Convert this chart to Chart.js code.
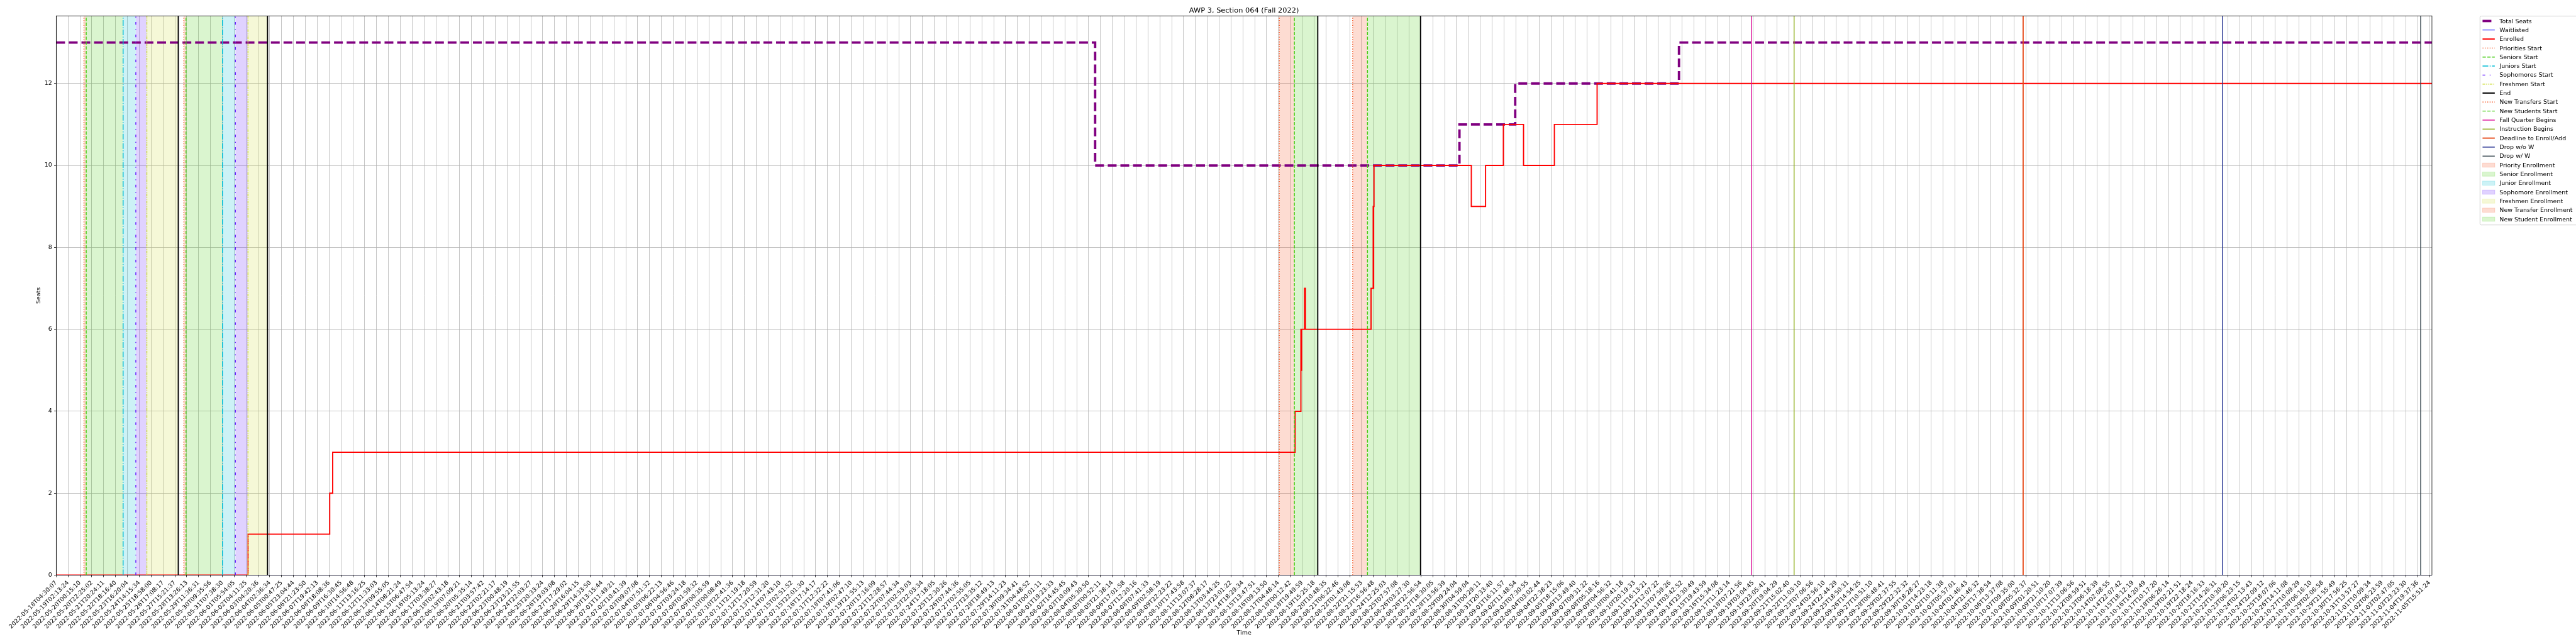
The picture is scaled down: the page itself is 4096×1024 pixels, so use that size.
<!DOCTYPE html>
<html><head><meta charset="utf-8">
<script src="https://cdn.jsdelivr.net/npm/chart.js@4.4.0/dist/chart.umd.min.js"></script>
<style>html,body{margin:0;padding:0;background:#fff;overflow:hidden}canvas{display:block}</style>
</head><body>
<canvas id="c" width="4096" height="1024" style="width:4096px;height:1024px"></canvas>
<script>
// ---------------- data ----------------
const TITLE = 'AWP 3, Section 064 (Fall 2022)';
const X_TITLE = 'Time';
const Y_TITLE = 'Seats';

const xTickLabels = [
'2022-05-18T04:30:07','2022-05-19T02:13:24','2022-05-20T00:15:10','2022-05-20T22:25:02','2022-05-21T20:24:11',
'2022-05-22T18:16:40','2022-05-23T16:20:04','2022-05-24T14:15:34','2022-05-25T18:58:00','2022-05-26T17:08:17',
'2022-05-27T15:21:37','2022-05-28T13:26:13','2022-05-29T11:36:31','2022-05-30T09:35:56','2022-05-31T07:38:30',
'2022-06-01T05:54:05','2022-06-02T04:11:25','2022-06-03T04:20:36','2022-06-04T02:36:34','2022-06-05T00:47:25',
'2022-06-05T23:04:44','2022-06-06T21:23:50','2022-06-07T19:42:13','2022-06-08T18:08:36','2022-06-09T16:30:45',
'2022-06-10T14:56:48','2022-06-11T13:16:25','2022-06-12T11:33:03','2022-06-13T09:55:05','2022-06-14T08:21:24',
'2022-06-15T06:47:54','2022-06-16T05:13:24','2022-06-17T03:38:27','2022-06-18T02:43:18','2022-06-19T07:09:21',
'2022-06-20T05:35:14','2022-06-21T03:57:42','2022-06-22T02:21:17','2022-06-23T00:48:19','2022-06-23T23:21:55',
'2022-06-24T22:03:27','2022-06-25T20:33:24','2022-06-26T19:03:08','2022-06-27T17:29:02','2022-06-28T16:04:15',
'2022-06-29T14:33:50','2022-06-30T13:15:44','2022-07-01T11:49:21','2022-07-02T10:41:39','2022-07-03T09:07:08',
'2022-07-04T07:51:32','2022-07-05T06:22:13','2022-07-06T04:56:46','2022-07-07T03:24:18','2022-07-08T01:59:32',
'2022-07-09T00:35:59','2022-07-10T00:08:49','2022-07-10T22:41:36','2022-07-11T21:19:18','2022-07-12T17:20:59',
'2022-07-13T12:31:20','2022-07-14T07:43:10','2022-07-15T02:51:52','2022-07-15T22:01:30','2022-07-16T17:14:17',
'2022-07-17T12:32:22','2022-07-18T07:41:06','2022-07-19T02:47:10','2022-07-19T21:55:13','2022-07-20T17:16:09',
'2022-07-21T12:28:57','2022-07-22T07:44:34','2022-07-23T02:53:03','2022-07-23T22:03:34','2022-07-24T17:18:05',
'2022-07-25T12:30:26','2022-07-26T07:44:36','2022-07-27T02:55:05','2022-07-27T23:35:12','2022-07-28T18:49:13',
'2022-07-29T14:11:23','2022-07-30T09:34:41','2022-07-31T04:48:52','2022-08-01T00:01:11','2022-08-01T19:23:33',
'2022-08-02T14:45:45','2022-08-03T10:09:43','2022-08-04T05:30:50','2022-08-05T00:52:11','2022-08-05T21:38:14',
'2022-08-06T17:01:58','2022-08-07T12:20:16','2022-08-08T07:41:33','2022-08-09T02:58:19','2022-08-09T22:23:22',
'2022-08-10T17:43:58','2022-08-11T13:07:37','2022-08-12T08:28:17','2022-08-13T03:44:25','2022-08-13T23:01:22',
'2022-08-14T18:29:34','2022-08-15T13:47:51','2022-08-16T09:13:50','2022-08-17T04:48:14','2022-08-18T00:12:42',
'2022-08-18T19:49:59','2022-08-19T15:25:18','2022-08-20T10:48:35','2022-08-21T06:22:46','2022-08-22T01:43:08',
'2022-08-22T21:15:53','2022-08-23T16:56:48','2022-08-24T12:25:03','2022-08-25T07:57:08','2022-08-26T03:27:30',
'2022-08-26T22:56:54','2022-08-27T18:30:05','2022-08-28T13:56:39','2022-08-29T09:24:04','2022-08-30T04:59:04',
'2022-08-31T00:29:11','2022-08-31T20:33:40','2022-09-01T16:11:57','2022-09-02T11:48:54','2022-09-03T07:30:55',
'2022-09-04T03:02:44','2022-09-04T22:38:23','2022-09-05T18:15:06','2022-09-06T13:49:40','2022-09-07T09:31:22',
'2022-09-08T05:18:16','2022-09-09T04:56:32','2022-09-10T00:41:18','2022-09-10T20:19:33','2022-09-11T16:13:21',
'2022-09-12T12:07:22','2022-09-13T07:59:26','2022-09-14T03:42:52','2022-09-14T23:30:49','2022-09-15T19:43:59',
'2022-09-16T15:34:08','2022-09-17T11:23:14','2022-09-18T07:21:56','2022-09-19T03:04:45','2022-09-19T23:05:41',
'2022-09-20T19:04:29','2022-09-21T15:02:40','2022-09-22T11:03:10','2022-09-23T07:06:56','2022-09-24T02:56:10',
'2022-09-24T22:44:29','2022-09-25T18:50:31','2022-09-26T14:54:25','2022-09-27T10:51:10','2022-09-28T06:48:41',
'2022-09-29T02:37:55','2022-09-29T22:32:32','2022-09-30T18:28:27','2022-10-01T14:23:18','2022-10-02T10:11:38',
'2022-10-03T05:57:01','2022-10-04T01:46:43','2022-10-04T21:46:32','2022-10-05T17:38:54','2022-10-06T13:37:08',
'2022-10-07T09:35:00','2022-10-08T05:32:37','2022-10-09T01:20:51','2022-10-09T21:10:20','2022-10-10T17:07:39',
'2022-10-11T13:06:56','2022-10-12T08:59:51','2022-10-13T06:18:39','2022-10-14T02:08:55','2022-10-14T22:07:42',
'2022-10-15T18:12:19','2022-10-16T14:20:49','2022-10-17T10:17:20','2022-10-18T06:26:14','2022-10-19T02:21:51',
'2022-10-19T22:18:24','2022-10-20T18:16:33','2022-10-21T14:26:31','2022-10-22T10:30:20','2022-10-23T06:23:15',
'2022-10-24T02:13:43','2022-10-24T22:09:12','2022-10-25T18:07:06','2022-10-26T14:11:08','2022-10-27T10:09:29',
'2022-10-28T06:16:10','2022-10-29T02:06:58','2022-10-29T21:55:49','2022-10-30T17:56:25','2022-10-31T13:57:27',
'2022-11-01T10:09:34','2022-11-02T06:23:59','2022-11-03T02:47:05','2022-11-03T23:23:30','2022-11-04T19:37:36',
'2022-11-05T15:51:24'
];
const yTickValues = [0, 2, 4, 6, 8, 10, 12];

// x positions are in tick-index units (one unit = one labelled tick)
const X_END = 200.2;
const Y_MAX = 13.65;

const totalSeatsX = [0, 87.55, 118.25, 122.95, 136.75, X_END];
const totalSeatsY = [13, 10, 11, 12, 13, 13];

const waitlistedX = [0, X_END];
const waitlistedY = [0, 0];

const enrolledX = [0, 16.17, 23.05, 23.3, 104.4, 104.89, 104.92, 104.95, 105.2, 105.27, 110.8, 110.98, 111.0, 111.02, 111.05, 119.25, 120.45, 121.95, 123.65, 126.25, 129.85, X_END];
const enrolledY = [0, 1, 2, 3, 4, 6, 5, 6, 7, 6, 7, 9, 7, 9, 10, 9, 10, 11, 10, 11, 12, 12];

const prioritiesStart = [2.34, 10.76];
const seniorsStart = [2.53, 10.94];
const juniorsStart = [5.64, 14.01];
const sophomoresStart = [6.71, 15.10];
const freshmenStart = [7.64, 16.16];
const periodEnd = [10.29, 17.81, 106.31, 114.97];
const newTransfersStart = [103.07, 109.25];
const newStudentsStart = [104.34, 110.5];
const fallQuarterBegins = [142.85];
const instructionBegins = [146.45];
const deadlineEnrollAdd = [165.75];
const dropNoW = [182.55];
const dropW = [199.25];

const priorityEnrollment = [[2.34, 2.53], [10.76, 10.94]];
const seniorEnrollment = [[2.53, 5.64], [10.94, 14.01]];
const juniorEnrollment = [[5.64, 6.71], [14.01, 15.10]];
const sophomoreEnrollment = [[6.71, 7.64], [15.10, 16.16]];
const freshmenEnrollment = [[7.64, 10.29], [16.16, 17.81]];
const newTransferEnrollment = [[103.07, 104.34], [109.25, 110.5]];
const newStudentEnrollment = [[104.34, 106.31], [110.5, 114.97]];

// ---------------- style ----------------
const S = 0.682;
const PX = v => v * S;             // reference px -> page px
const LW = pt => pt * 100 / 72 * S; // matplotlib points -> page px
const FONT = '"DejaVu Sans", "Liberation Sans", sans-serif';
const CHART_LEFT = PX(131), CHART_RIGHT = PX(5670), CHART_TOP = PX(37), CHART_BOTTOM = PX(1341);

function dashes(pattern, lwPt) { return pattern.map(v => v * LW(lwPt)); }
const DOTTED = [1, 1.65], DASHED = [3.7, 1.6], DASHDOT = [6.4, 1.6, 1, 1.6];
const LOOSE_DASHDOT = [3, 5, 1, 5], DENSE_DASHDOTDOT = [3, 1, 1, 1, 1, 1];

function xy(xs, ys) { return xs.map((x, i) => ({ x, y: ys[i] })); }
function vlines(xs) { const d = []; xs.forEach(x => { d.push({ x, y: 0 }, { x, y: Y_MAX }, { x, y: null }); }); return d; }
function spans(list) { const d = []; list.forEach(([a, b]) => { d.push({ x: a, y: Y_MAX }, { x: b, y: Y_MAX }, { x: b, y: null }); }); return d; }

const rgba = (hex, a) => { const n = parseInt(hex.slice(1), 16); return `rgba(${n >> 16},${(n >> 8) & 255},${n & 255},${a})`; };

function lineDs(label, data, color, lwPt, dash, order, stepped) {
  return { label, data, borderColor: color, backgroundColor: color, borderWidth: LW(lwPt),
    borderDash: dash ? dashes(dash, lwPt) : [], order, stepped: stepped || false, fill: false,
    pointRadius: 0, pointHitRadius: 0, spanGaps: false, _kind: 'line', _lw: lwPt, _dash: dash };
}
function spanDs(label, list, color, alpha) {
  return { label, data: spans(list), borderColor: 'rgba(0,0,0,0)', borderWidth: 0, backgroundColor: rgba(color, alpha),
    fill: 'origin', order: 100, pointRadius: 0, pointHitRadius: 0, spanGaps: false, _kind: 'patch', _color: color, _alpha: alpha };
}

const C = {
  total: '#800080', wait: '#0000ff', enr: '#ff0000',
  prio: '#f4511e', sen: '#44cc11', jun: '#00bcd4', soph: '#651fff', fresh: '#cddc39', end: '#000000',
  fall: '#dd1199', instr: '#8fae1b', dead: '#e64a19', dropNoW: '#283593', dropW: '#37474f'
};

const datasets = [
  lineDs('Total Seats', xy(totalSeatsX, totalSeatsY), C.total, 4, DASHED, 52, true),
  lineDs('Waitlisted', xy(waitlistedX, waitlistedY), C.wait, 1, null, 51, true),
  lineDs('Enrolled', xy(enrolledX, enrolledY), C.enr, 2, null, 50, true),
  lineDs('Priorities Start', vlines(prioritiesStart), C.prio, 1.5, DOTTED, 10),
  lineDs('Seniors Start', vlines(seniorsStart), C.sen, 1.5, DASHED, 10),
  lineDs('Juniors Start', vlines(juniorsStart), C.jun, 1.5, DASHDOT, 10),
  lineDs('Sophomores Start', vlines(sophomoresStart), C.soph, 1.5, LOOSE_DASHDOT, 10),
  lineDs('Freshmen Start', vlines(freshmenStart), C.fresh, 1.5, DENSE_DASHDOTDOT, 10),
  lineDs('End', vlines(periodEnd), C.end, 2, null, 10),
  lineDs('New Transfers Start', vlines(newTransfersStart), C.prio, 1.5, DOTTED, 10),
  lineDs('New Students Start', vlines(newStudentsStart), C.sen, 1.5, DASHED, 10),
  lineDs('Fall Quarter Begins', vlines(fallQuarterBegins), C.fall, 1.5, null, 10),
  lineDs('Instruction Begins', vlines(instructionBegins), C.instr, 1.5, null, 10),
  lineDs('Deadline to Enroll/Add', vlines(deadlineEnrollAdd), C.dead, 2, null, 10),
  lineDs('Drop w/o W', vlines(dropNoW), C.dropNoW, 1.5, null, 10),
  lineDs('Drop w/ W', vlines(dropW), C.dropW, 1.5, null, 10),
  spanDs('Priority Enrollment', priorityEnrollment, C.prio, 0.2),
  spanDs('Senior Enrollment', seniorEnrollment, C.sen, 0.2),
  spanDs('Junior Enrollment', juniorEnrollment, C.jun, 0.2),
  spanDs('Sophomore Enrollment', sophomoreEnrollment, C.soph, 0.2),
  spanDs('Freshmen Enrollment', freshmenEnrollment, C.fresh, 0.2),
  spanDs('New Transfer Enrollment', newTransferEnrollment, C.prio, 0.2),
  spanDs('New Student Enrollment', newStudentEnrollment, C.sen, 0.2)
];

// ---------------- decorations (frame, titles, legend) ----------------
const decorPlugin = {
  id: 'decor',
  afterDraw(chart) {
    const ctx = chart.ctx, ca = chart.chartArea;
    ctx.save();
    ctx.strokeStyle = '#000'; ctx.lineWidth = LW(0.8); ctx.setLineDash([]);
    ctx.strokeRect(ca.left, ca.top, ca.right - ca.left, ca.bottom - ca.top);
    ctx.fillStyle = '#000';
    ctx.textAlign = 'center';
    ctx.font = `${PX(16.67)}px ${FONT}`; ctx.textBaseline = 'alphabetic';
    ctx.fillText(TITLE, (ca.left + ca.right) / 2, ca.top - LW(6));
    ctx.font = `${PX(13.89)}px ${FONT}`; ctx.textBaseline = 'top';
    ctx.fillText(X_TITLE, (ca.left + ca.right) / 2, PX(1469));
    ctx.save();
    ctx.translate(PX(97.5), (ca.top + ca.bottom) / 2); ctx.rotate(-Math.PI / 2);
    ctx.textBaseline = 'bottom'; ctx.fillText(Y_TITLE, 0, 0);
    ctx.restore();

    // legend
    const lx = PX(5782), ly = PX(37.5), lw = PX(330), lh = PX(487);
    ctx.fillStyle = 'rgba(255,255,255,0.8)'; ctx.strokeStyle = '#cccccc'; ctx.lineWidth = LW(1);
    const r = PX(3);
    ctx.beginPath();
    ctx.moveTo(lx + r, ly); ctx.lineTo(lx + lw - r, ly); ctx.arcTo(lx + lw, ly, lx + lw, ly + r, r);
    ctx.lineTo(lx + lw, ly + lh - r); ctx.arcTo(lx + lw, ly + lh, lx + lw - r, ly + lh, r);
    ctx.lineTo(lx + r, ly + lh); ctx.arcTo(lx, ly + lh, lx, ly + lh - r, r);
    ctx.lineTo(lx, ly + r); ctx.arcTo(lx, ly, lx + r, ly, r); ctx.closePath();
    ctx.fill(); ctx.stroke();
    const hx0 = PX(5788), hx1 = PX(5816.5), tx = PX(5827.5);
    ctx.font = `${PX(13.89)}px ${FONT}`; ctx.textAlign = 'left'; ctx.textBaseline = 'middle';
    chart.data.datasets.forEach((ds, i) => {
      const yc = PX(49) + i * PX(21);
      if (ds._kind === 'line') {
        ctx.strokeStyle = ds.borderColor; ctx.lineWidth = ds.borderWidth; ctx.lineCap = 'butt';
        ctx.setLineDash(ds._dash ? dashes(ds._dash, ds._lw) : []);
        ctx.beginPath(); ctx.moveTo(hx0, yc); ctx.lineTo(hx1, yc); ctx.stroke();
      } else {
        ctx.setLineDash([]);
        ctx.fillStyle = ds.backgroundColor; ctx.strokeStyle = ds.backgroundColor; ctx.lineWidth = LW(1);
        const h = PX(9.7);
        ctx.fillRect(hx0, yc - h / 2, hx1 - hx0, h);
        ctx.strokeRect(hx0, yc - h / 2, hx1 - hx0, h);
      }
      ctx.setLineDash([]);
      ctx.fillStyle = '#000';
      ctx.fillText(ds.label, tx, yc + PX(1));
    });
    ctx.restore();
  }
};

new Chart(document.getElementById('c'), {
  type: 'line',
  data: { datasets },
  options: {
    responsive: false, animation: false, devicePixelRatio: 1,
    layout: { padding: { left: 0, top: CHART_TOP, right: 4096 - CHART_RIGHT, bottom: 0 } },
    plugins: { legend: { display: false }, title: { display: false }, tooltip: { enabled: false } },
    elements: { point: { radius: 0 }, line: { tension: 0, borderCapStyle: 'butt' } },
    scales: {
      x: {
        type: 'linear', min: 0, max: X_END,
        afterFit: s => { s.height = 1024 - CHART_BOTTOM; },
        afterBuildTicks: s => { s.ticks = xTickLabels.map((_, i) => ({ value: i })); },
        ticks: { autoSkip: false, minRotation: 45, maxRotation: 45, padding: LW(3.5), color: '#000',
                 font: { family: FONT, size: PX(13.89) }, callback: v => xTickLabels[v] },
        grid: { color: '#b0b0b0', lineWidth: LW(0.8), tickLength: LW(3.5), tickColor: '#000', tickWidth: LW(0.8) },
        border: { color: '#000', width: LW(0.8) }
      },
      y: {
        type: 'linear', min: 0, max: Y_MAX,
        afterFit: s => { s.width = CHART_LEFT; },
        afterBuildTicks: s => { s.ticks = yTickValues.map(v => ({ value: v })); },
        ticks: { padding: LW(3.5), color: '#000', font: { family: FONT, size: PX(13.89) } },
        grid: { color: '#b0b0b0', lineWidth: LW(0.8), tickLength: LW(3.5), tickColor: '#000', tickWidth: LW(0.8) },
        border: { color: '#000', width: LW(0.8) }
      }
    }
  },
  plugins: [decorPlugin]
});
</script></body></html>
